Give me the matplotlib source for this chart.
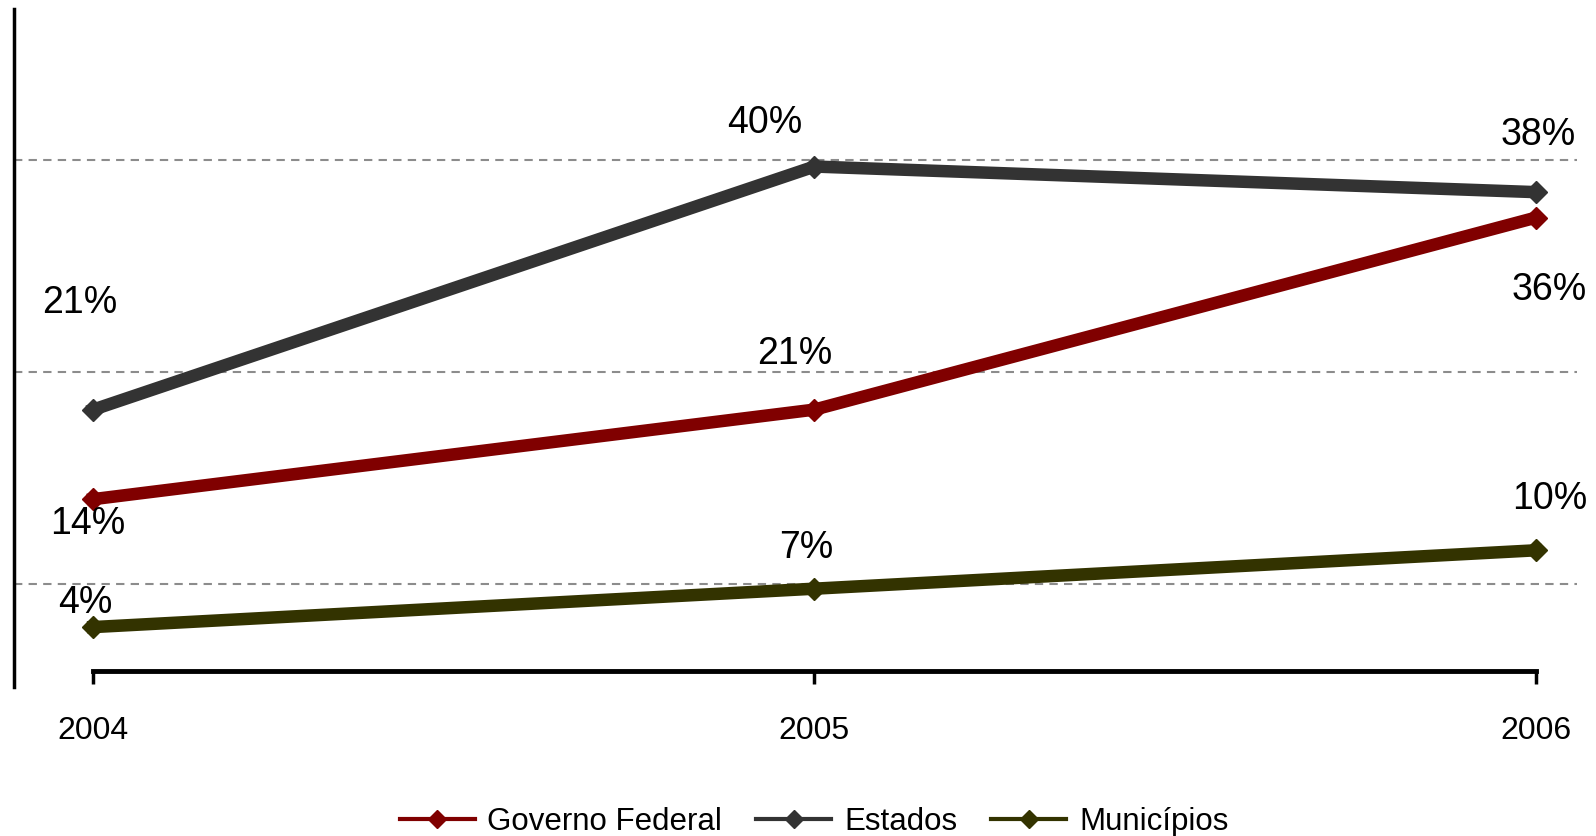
import matplotlib.pyplot as plt
from matplotlib.lines import Line2D

plt.rcParams['font.family'] = ['Liberation Sans', 'DejaVu Sans']

anos = [2004, 2005, 2006]
governo_federal = [14, 21, 36]
estados = [21, 40, 38]
municipios = [4, 7, 10]

series = ["Governo Federal", "Estados", "Municípios"]
cores = ["#800000", "#333333", "#333300"]

# label offsets (points) for each series / year
offsets = {
    "Governo Federal": [(-4, -18), (-14, 40), (10, -52)],
    "Estados": [(-10, 77), (-36, 31), (2, 41)],
    "Municípios": [(-6, 17), (-6, 29), (10, 37)],
}

fig = plt.figure(figsize=(15.96, 8.36), dpi=100)
ax = fig.add_axes([0.0088, 0.178, 0.9795, 0.811])

valores = [governo_federal, estados, municipios]
for nome, vals, cor in zip(series, valores, cores):
    ax.plot(anos, vals, color=cor, lw=9, marker='D', markersize=11,
            solid_joinstyle='miter', zorder=3)
    for x, y, off in zip(anos, vals, offsets[nome]):
        ax.annotate(f"{y}%", (x, y), xytext=off, textcoords='offset points',
                    ha='center', va='center', fontsize=27, color='black')

ax.set_xlim(2003.89, 2006.058)
ax.set_ylim(-0.7, 52.3)

ax.set_yticks([7.4, 23.9, 40.5])
ax.set_yticklabels([])
ax.tick_params(axis='y', length=0)
ax.yaxis.grid(True, color='#8c8c8c', linestyle=(0, (4, 3)), lw=1.5)
ax.set_axisbelow(True)

ax.set_xticks(anos)
ax.set_xticklabels([str(a) for a in anos])
ax.tick_params(axis='x', direction='out', length=9, width=2.5, pad=24, labelsize=23)

for s in ['top', 'right']:
    ax.spines[s].set_visible(False)
ax.spines['left'].set_linewidth(2.5)
ax.spines['bottom'].set_position(('data', 0.6))
ax.spines['bottom'].set_bounds(2004, 2006)
ax.spines['bottom'].set_linewidth(3.5)

handles = [Line2D([], [], color=c, lw=3, marker='D', markersize=9) for c in cores]
fig.legend(handles, series, loc='center', bbox_to_anchor=(0.51, 0.017),
           ncol=3, frameon=False, fontsize=22.5, handlelength=2.4,
           columnspacing=1.1, handletextpad=0.4)

fig.savefig("out.png", dpi=100)
